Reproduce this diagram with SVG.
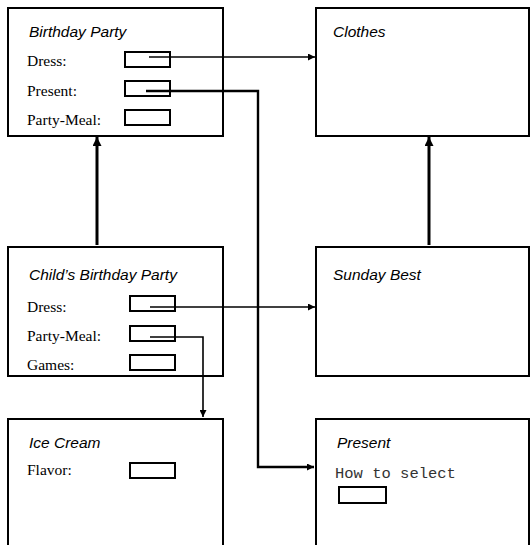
<svg xmlns="http://www.w3.org/2000/svg" width="531" height="545" viewBox="0 0 531 545">
<defs>
<style>
.box{fill:#fff;stroke:#000;stroke-width:2}
.fld{fill:#fff;stroke:#000;stroke-width:2}
.ttl{font-family:"Liberation Sans",Arial,sans-serif;font-style:italic;font-size:15.5px;fill:#000}
.lbl{font-family:"Liberation Serif","Times New Roman",serif;font-size:15.5px;fill:#000}
.mono{font-family:"Liberation Mono","Courier New",monospace;font-size:15.5px;fill:#333}
.ref{fill:none;stroke:#000;stroke-width:1.6}
.refb{fill:none;stroke:#000;stroke-width:2.4}
.inh{fill:none;stroke:#000;stroke-width:3}
</style>
<marker id="a" viewBox="0 0 10 10" refX="10" refY="5" markerUnits="userSpaceOnUse" markerWidth="9" markerHeight="7" orient="auto"><path d="M0,0L10,5L0,10z" fill="#000"/></marker>
<marker id="b" viewBox="0 0 10 10" refX="10" refY="5" markerUnits="userSpaceOnUse" markerWidth="11" markerHeight="9" orient="auto"><path d="M0,0L10,5L0,10z" fill="#000"/></marker>
</defs>
<g id="birthday-party">
<rect class="box" x="8" y="8" width="215" height="128"/>
<text class="ttl" x="29" y="37">Birthday Party</text>
<text class="lbl" x="27" y="66">Dress:</text>
<text class="lbl" x="27" y="96">Present:</text>
<text class="lbl" x="27" y="125">Party-Meal:</text>
<rect class="fld" x="125" y="52" width="45" height="15"/>
<rect class="fld" x="125" y="81" width="45" height="15"/>
<rect class="fld" x="125" y="110" width="45" height="15"/>
</g>
<g id="clothes">
<rect class="box" x="316" y="8" width="213" height="128"/>
<text class="ttl" x="333" y="37">Clothes</text>
</g>
<g id="childs-birthday-party">
<rect class="box" x="8" y="247" width="215" height="129"/>
<text class="ttl" x="29" y="280">Child’s Birthday Party</text>
<text class="lbl" x="27" y="312">Dress:</text>
<text class="lbl" x="27" y="341">Party-Meal:</text>
<text class="lbl" x="27" y="370">Games:</text>
<rect class="fld" x="130" y="296" width="45" height="15"/>
<rect class="fld" x="130" y="326" width="45" height="15"/>
<rect class="fld" x="130" y="355" width="45" height="15"/>
</g>
<g id="sunday-best">
<rect class="box" x="316" y="247" width="213" height="129"/>
<text class="ttl" x="333" y="280">Sunday Best</text>
</g>
<g id="ice-cream">
<rect class="box" x="8" y="419" width="215" height="140"/>
<text class="ttl" x="29" y="448">Ice Cream</text>
<text class="lbl" x="27" y="475">Flavor:</text>
<rect class="fld" x="130" y="463" width="45" height="15"/>
</g>
<g id="present">
<rect class="box" x="316" y="419" width="213" height="140"/>
<text class="ttl" x="337" y="448">Present</text>
<text class="mono" x="335" y="478">How to select</text>
<rect class="fld" x="339" y="487" width="47" height="16"/>
</g>
<g id="connectors">
<path class="ref" d="M149,57H315" marker-end="url(#a)"/>
<path class="refb" d="M146,91H258V467H314" marker-end="url(#a)"/>
<path class="inh" d="M97,245V137" marker-end="url(#b)"/>
<path class="inh" d="M429,245V137" marker-end="url(#b)"/>
<path class="ref" d="M150,307H315" marker-end="url(#a)"/>
<path class="ref" d="M150,337H203V417" marker-end="url(#a)"/>
</g>
</svg>
